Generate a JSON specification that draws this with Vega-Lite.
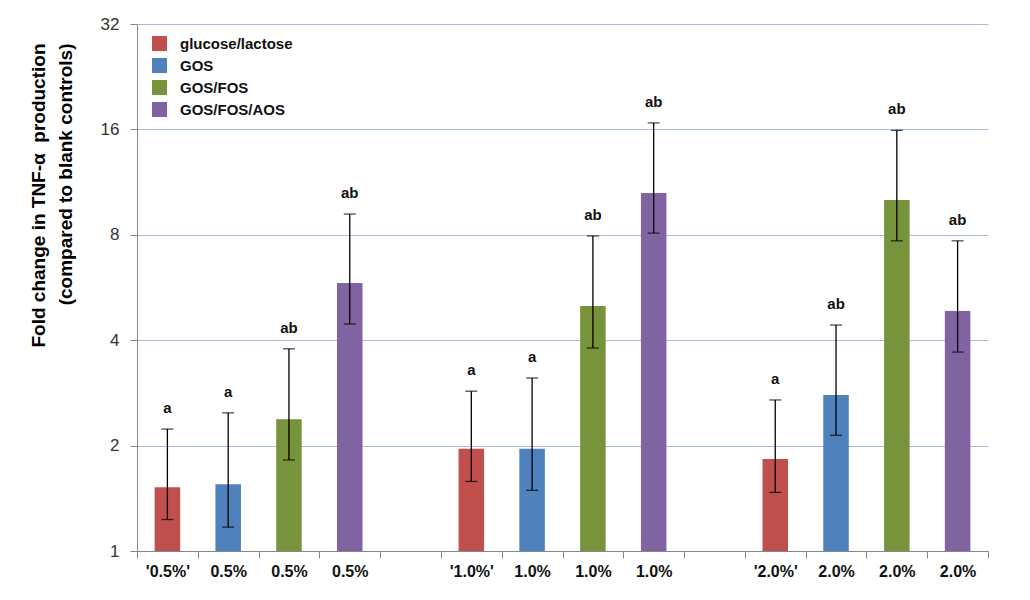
{
  "$schema": "https://vega.github.io/schema/vega-lite/v6.json",
  "autosize": "none",
  "width": 851,
  "height": 527,
  "padding": {"left": 137, "top": 24, "right": 42, "bottom": 49},
  "background": "white",
  "config": {
    "view": {"stroke": null},
    "font": "Liberation Sans"
  },
  "data": {
    "values": [
      {"slot": "s1", "series": "glucose/lactose", "value": 1.52, "lo": 1.23, "hi": 2.23, "letter": "a"},
      {"slot": "s2", "series": "GOS", "value": 1.55, "lo": 1.17, "hi": 2.48, "letter": "a"},
      {"slot": "s3", "series": "GOS/FOS", "value": 2.38, "lo": 1.82, "hi": 3.78, "letter": "ab"},
      {"slot": "s4", "series": "GOS/FOS/AOS", "value": 5.83, "lo": 4.45, "hi": 9.17, "letter": "ab"},
      {"slot": "s5", "series": "glucose/lactose", "value": 1.96, "lo": 1.58, "hi": 2.86, "letter": "a"},
      {"slot": "s6", "series": "GOS", "value": 1.96, "lo": 1.49, "hi": 3.12, "letter": "a"},
      {"slot": "s7", "series": "GOS/FOS", "value": 5.01, "lo": 3.8, "hi": 7.94, "letter": "ab"},
      {"slot": "s8", "series": "GOS/FOS/AOS", "value": 10.53, "lo": 8.09, "hi": 16.7, "letter": "ab"},
      {"slot": "s9", "series": "glucose/lactose", "value": 1.83, "lo": 1.47, "hi": 2.7, "letter": "a"},
      {"slot": "s10", "series": "GOS", "value": 2.79, "lo": 2.14, "hi": 4.42, "letter": "ab"},
      {"slot": "s11", "series": "GOS/FOS", "value": 10.06, "lo": 7.69, "hi": 15.9, "letter": "ab"},
      {"slot": "s12", "series": "GOS/FOS/AOS", "value": 4.85, "lo": 3.7, "hi": 7.69, "letter": "ab"}
    ]
  },
  "encoding": {
    "x": {
      "field": "slot",
      "type": "nominal",
      "scale": {
        "domain": ["s1", "s2", "s3", "s4", "g1", "s5", "s6", "s7", "s8", "g2", "s9", "s10", "s11", "s12"],
        "paddingInner": 0,
        "paddingOuter": 0
      },
      "axis": {
        "title": null,
        "labelAngle": 0,
        "tickBand": "extent",
        "domainColor": "#868686",
        "tickColor": "#868686",
        "tickSize": 7,
        "labelPadding": 5,
        "labelFontSize": 16,
        "labelFontWeight": "bold",
        "labelColor": "#111111",
        "labelExpr": "{'s1': \"'0.5%'\", 's2': '0.5%', 's3': '0.5%', 's4': '0.5%', 'g1': '', 's5': \"'1.0%'\", 's6': '1.0%', 's7': '1.0%', 's8': '1.0%', 'g2': '', 's9': \"'2.0%'\", 's10': '2.0%', 's11': '2.0%', 's12': '2.0%'}[datum.value]"
      }
    }
  },
  "layer": [
    {
      "mark": {"type": "bar", "width": {"band": 0.42}},
      "encoding": {
        "y": {
          "field": "value",
          "type": "quantitative",
          "title": ["Fold change in TNF-α\u00a0\u00a0production", "(compared to blank controls)"],
          "scale": {"type": "log", "base": 2, "domain": [1, 32], "nice": false},
          "axis": {
            "values": [1, 2, 4, 8, 16, 32],
            "format": "d",
            "titleFontSize": 19,
            "titleFontWeight": "bold",
            "titleColor": "#000000",
            "titleLineHeight": 27,
            "titleAngle": -90,
            "titleAlign": "right",
            "titleBaseline": "middle",
            "titleX": -99,
            "titleY": 19,
            "labelFontSize": 17,
            "labelColor": "#333333",
            "labelPadding": 11,
            "tickSize": 7,
            "tickColor": "#868686",
            "domainColor": "#868686",
            "gridColor": "#a7bcdd",
            "gridWidth": 1
          }
        },
        "y2": {"datum": 1},
        "color": {
          "field": "series",
          "type": "nominal",
          "scale": {
            "domain": ["glucose/lactose", "GOS", "GOS/FOS", "GOS/FOS/AOS"],
            "range": ["#C0504D", "#4F81BD", "#77933C", "#8064A2"]
          },
          "legend": {
            "title": null,
            "orient": "none",
            "legendX": 15,
            "legendY": 12,
            "symbolType": "square",
            "symbolSize": 225,
            "symbolStrokeWidth": 0,
            "labelFontSize": 15,
            "labelFontWeight": "bold",
            "labelColor": "#111111",
            "labelOffset": 13,
            "rowPadding": 6,
            "padding": 0
          }
        }
      }
    },
    {
      "mark": {"type": "errorbar", "color": "black", "thickness": 1.3, "ticks": {"size": 12, "color": "black"}},
      "encoding": {
        "y": {"field": "lo", "type": "quantitative", "title": ["Fold change in TNF-α\u00a0\u00a0production", "(compared to blank controls)"]},
        "y2": {"field": "hi"}
      }
    },
    {
      "mark": {"type": "text", "baseline": "alphabetic", "dy": -16, "fontSize": 15, "fontWeight": "bold", "color": "#111111"},
      "encoding": {
        "y": {"field": "hi", "type": "quantitative", "title": ["Fold change in TNF-α\u00a0\u00a0production", "(compared to blank controls)"]},
        "text": {"field": "letter"}
      }
    }
  ]
}
